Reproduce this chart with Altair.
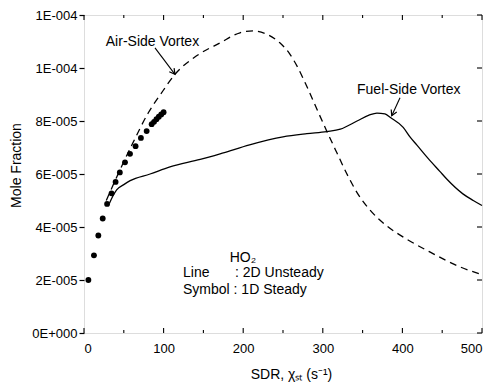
import altair as alt
import pandas as pd

# ---- data (y values in units of 1e-5) ----
air_x = [28, 41, 61, 81, 96, 116, 141, 171, 196, 213, 230, 246, 258, 268, 280, 294, 306, 318, 330, 343, 359, 380, 405, 435, 472, 500]
air_y = [5.0, 5.88, 7.15, 8.32, 9.0, 9.82, 10.45, 10.95, 11.33, 11.4, 11.27, 10.95, 10.55, 10.05, 9.3, 8.35, 7.55, 6.78, 6.02, 5.3, 4.65, 4.05, 3.55, 3.05, 2.5, 2.2]

fuel_x = [32, 36, 41, 50, 58, 83, 108, 146, 175, 208, 250, 280, 305, 322, 343, 358, 368, 378, 385, 401, 410, 418, 432, 447, 456, 476, 489, 500]
fuel_y = [4.9, 5.15, 5.4, 5.6, 5.75, 6.0, 6.27, 6.55, 6.8, 7.1, 7.4, 7.52, 7.6, 7.69, 8.0, 8.22, 8.3, 8.27, 8.13, 7.76, 7.38, 7.1, 6.6, 6.1, 5.8, 5.25, 5.0, 4.81]

sym_x = [5.5, 12.5, 18, 23.5, 29, 34.6, 39.7, 45, 51.5, 57.8, 64.8, 71.5, 78.7, 85, 88, 91, 94, 97, 100]
sym_y = [2.0, 2.93, 3.68, 4.32, 4.87, 5.27, 5.7, 6.06, 6.44, 6.76, 7.05, 7.36, 7.62, 7.88, 7.97, 8.07, 8.16, 8.25, 8.33]

x_ticks = [0, 100, 200, 300, 400, 500]
x_minor = [50, 150, 250, 350, 450]
y_ticks = [0, 2e-5, 4e-5, 6e-5, 8e-5, 1e-4, 1.2e-4]
y_labels = ["0E+000", "2E-005", "4E-005", "6E-005", "8E-005", "1E-004", "1E-004"]

S = 1e-5
air = pd.DataFrame({"x": air_x, "y": [v * S for v in air_y]})
fuel = pd.DataFrame({"x": fuel_x, "y": [v * S for v in fuel_y]})
sym = pd.DataFrame({"x": sym_x, "y": [v * S for v in sym_y]})

notes = pd.DataFrame({
    "x": [86, 408],
    "y": [10.98 * S, 9.17 * S],
    "t": ["Air-Side Vortex", "Fuel-Side Vortex"],
})
legend_left = pd.DataFrame({
    "x": [124.4, 189.7, 124.4],
    "y": [2.26 * S, 2.26 * S, 1.62 * S],
    "t": ["Line", ": 2D Unsteady", "Symbol : 1D Steady"],
})
legend_title = pd.DataFrame({"x": [199.7], "y": [2.82 * S], "t": ["HO\u2082"]})

arrows = pd.DataFrame({
    "a": ["air", "air", "fuel", "fuel"],
    "x": [89.2, 114.3, 397, 386.6],
    "y": [10.76 * S, 9.76 * S, 8.88 * S, 8.2 * S],
})
heads = pd.DataFrame({"x": [114.3, 386.6], "y": [9.76 * S, 8.2 * S], "ang": [143, 204]})

W, H = 398, 318
FONT = "Liberation Sans"

label_expr = "[" + ",".join("'%s'" % s for s in y_labels) + "][round(datum.value/2e-5)]"

xs = alt.Scale(domain=[0, 500], nice=False)
ys = alt.Scale(domain=[0, 1.2e-4], nice=False)

xenc = alt.X("x:Q", scale=xs, axis=alt.Axis(
    values=x_ticks, ticks=False, domain=False, grid=False, labelPadding=9,
    labelFontSize=13, labelFont=FONT, labelColor="black",
    title="SDR, \u03c7\u209b\u209c (s\u207b\u00b9)", titleFont=FONT, titleFontSize=14,
    titleFontWeight="normal", titleColor="black", titleX=207, titleY=41,
    titleBaseline="middle", titleAlign="center"))
yenc = alt.Y("y:Q", scale=ys, axis=alt.Axis(
    values=y_ticks, ticks=True, tickSize=5, tickColor="black", tickWidth=1.2,
    domain=False, grid=False, labelPadding=2, labelExpr=label_expr,
    labelFontSize=13, labelFont=FONT, labelColor="black",
    title="Mole Fraction", titleFont=FONT, titleFontSize=14, titleFontWeight="normal",
    titleColor="black", titleX=-68, titleY=150, titleAngle=-90,
    titleBaseline="middle", titleAlign="center"))

base_x = alt.X("x:Q", scale=xs)
base_y = alt.Y("y:Q", scale=ys)

dashed = alt.Chart(air).mark_line(color="black", strokeWidth=1.3, strokeDash=[7, 5], interpolate="monotone").encode(x=xenc, y=yenc)
solid = alt.Chart(fuel).mark_line(color="black", strokeWidth=1.3, interpolate="monotone").encode(x=base_x, y=base_y)
points = alt.Chart(sym).mark_circle(color="black", size=34, opacity=1).encode(x=base_x, y=base_y)

xt_major = pd.DataFrame({"x": x_ticks})
xt_minor = pd.DataFrame({"x": x_minor})
yt = pd.DataFrame({"y": y_ticks})

tick_style = dict(color="black", strokeWidth=1.1)
bot_major = alt.Chart(xt_major).mark_rule(**tick_style).encode(x=base_x, y=alt.value(H), y2=alt.value(H - 5))
bot_minor = alt.Chart(xt_minor).mark_rule(**tick_style).encode(x=base_x, y=alt.value(H), y2=alt.value(H - 3))
top_major = alt.Chart(xt_major).mark_rule(**tick_style).encode(x=base_x, y=alt.value(0), y2=alt.value(5))
top_minor = alt.Chart(xt_minor).mark_rule(**tick_style).encode(x=base_x, y=alt.value(0), y2=alt.value(3))
right_ticks = alt.Chart(yt).mark_rule(**tick_style).encode(y=base_y, x=alt.value(W), x2=alt.value(W - 5))

note_text = alt.Chart(notes).mark_text(font=FONT, fontSize=14, color="black", align="center", baseline="middle").encode(
    x=base_x, y=base_y, text="t:N")
leg_text = alt.Chart(legend_left).mark_text(font=FONT, fontSize=14, color="black", align="left", baseline="middle").encode(
    x=base_x, y=base_y, text="t:N")
leg_title = alt.Chart(legend_title).mark_text(font=FONT, fontSize=14, color="black", align="center", baseline="middle").encode(
    x=base_x, y=base_y, text="t:N")

arrow_lines = alt.Chart(arrows).mark_line(color="black", strokeWidth=1.1).encode(x=base_x, y=base_y, detail="a:N")
arrow_heads = alt.Chart(heads).mark_point(
    shape="M -0.55 1 L 0 0 L 0.55 1", filled=False, color="black", strokeWidth=1.2, size=120, opacity=1
).encode(x=base_x, y=base_y, angle=alt.Angle("ang:Q", scale=None))

chart = alt.layer(
    dashed, solid, points, bot_major, bot_minor, top_major, top_minor, right_ticks,
    note_text, leg_text, leg_title, arrow_lines, arrow_heads
).properties(
    width=W, height=H,
    autosize=alt.AutoSizeParams(type="none"),
    padding={"left": 76, "top": 7, "right": 3, "bottom": 50},
).configure_view(stroke="black", strokeWidth=1.5).configure(background="white")

chart.save("out.html", embed_options={"renderer": "svg", "actions": False})
